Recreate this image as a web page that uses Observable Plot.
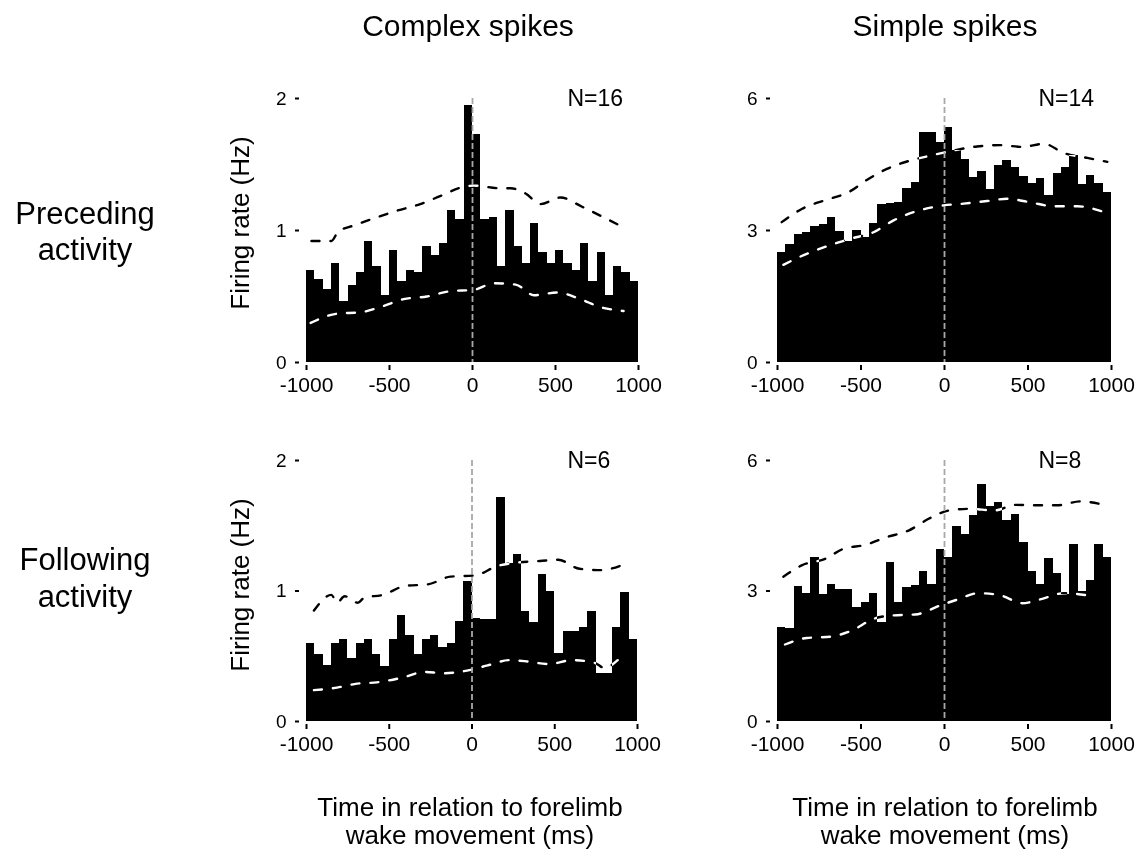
<!DOCTYPE html>
<html><head><meta charset="utf-8">
<script src="https://cdn.jsdelivr.net/npm/d3@7"></script>
<script src="https://cdn.jsdelivr.net/npm/@observablehq/plot@0.6"></script>
<style>
body{margin:0;background:#fff;}
#fig{position:relative;width:1137px;height:851px;font-family:"Liberation Sans",Arial,Helvetica,sans-serif;color:#000;overflow:hidden;background:#fff;}
.t{position:absolute;white-space:nowrap;text-align:center;}
.panel{position:absolute;}
</style></head><body><div id="fig"></div>
<script>
// 50-ms bins, -1000 .. 1000 ms
const binStarts = [-1000,-950,-900,-850,-800,-750,-700,-650,-600,-550,-500,-450,-400,-350,-300,-250,-200,-150,-100,-50,
  0,50,100,150,200,250,300,350,400,450,500,550,600,650,700,750,800,850,900,950];
const binWidth = 50;

// Complex spikes, preceding activity (N=16)
const csPreRate = [0.70,0.63,0.55,0.75,0.46,0.58,0.68,0.92,0.73,0.51,0.85,0.61,0.70,0.68,0.88,0.81,0.90,1.15,1.08,1.95,
  1.73,1.08,1.10,0.73,1.15,0.88,0.75,1.05,0.83,0.75,0.85,0.75,0.70,0.90,0.61,0.83,0.51,0.73,0.68,0.61];
const csPreUpT = [-970,-850,-810,-710,-575,-455,-315,-195,-55,10,165,230,320,410,530,660,790,930];
const csPreUpV = [0.92,0.92,0.99,1.04,1.10,1.15,1.20,1.26,1.33,1.34,1.32,1.32,1.28,1.20,1.25,1.18,1.10,1.01];
const csPreLoT = [-975,-815,-675,-555,-415,-275,-135,5,130,260,370,510,650,770,910];
const csPreLoV = [0.30,0.37,0.38,0.42,0.48,0.50,0.54,0.55,0.60,0.59,0.51,0.53,0.48,0.42,0.39];

// Simple spikes, preceding activity (N=14)
const ssPreRate = [2.49,2.68,2.90,2.95,3.09,3.14,3.29,2.98,2.76,3.00,2.83,3.17,3.58,3.62,3.64,3.95,4.08,5.22,5.22,5.01,
  5.34,4.82,4.61,4.21,4.33,3.93,4.48,4.59,4.44,4.23,4.06,4.19,3.80,4.29,4.43,4.71,4.04,4.24,4.06,3.86];
const ssPreUpT = [-975,-855,-705,-575,-465,-345,-205,-75,55,195,335,465,595,715,855,975];
const ssPreUpV = [3.19,3.49,3.70,3.87,4.15,4.40,4.59,4.71,4.82,4.91,4.94,4.90,4.97,4.76,4.65,4.56];
const ssPreLoT = [-965,-825,-705,-565,-425,-305,-165,-5,115,255,375,515,655,795,955];
const ssPreLoV = [2.22,2.47,2.64,2.81,2.96,3.23,3.44,3.57,3.61,3.67,3.72,3.64,3.55,3.55,3.42];

// Complex spikes, following activity (N=6)
const csFolRate = [0.60,0.51,0.43,0.60,0.63,0.48,0.60,0.63,0.51,0.42,0.63,0.81,0.66,0.51,0.63,0.66,0.57,0.60,0.77,1.07,
  0.79,0.78,0.78,1.72,1.21,1.28,0.84,0.76,1.13,1.00,0.52,0.69,0.69,0.72,0.84,0.37,0.37,0.72,0.99,0.63];
const csFolUpT = [-955,-850,-815,-770,-690,-650,-540,-400,-270,-130,20,150,290,410,520,650,780,910];
const csFolUpV = [0.85,0.97,0.91,0.96,0.91,0.95,0.97,1.04,1.05,1.11,1.12,1.19,1.22,1.23,1.24,1.17,1.16,1.20];
const csFolLoT = [-955,-815,-695,-575,-410,-290,-170,-30,95,225,335,465,605,740,800,880];
const csFolLoV = [0.24,0.26,0.29,0.30,0.34,0.38,0.37,0.39,0.43,0.47,0.46,0.44,0.47,0.45,0.41,0.47];

// Simple spikes, following activity (N=8)
const ssFolRate = [2.15,2.13,3.11,2.95,3.78,2.92,3.16,3.03,3.03,2.63,2.74,2.95,2.28,3.66,2.74,3.09,3.13,3.45,3.16,3.95,
  3.78,4.49,4.29,4.74,5.44,4.94,5.04,4.62,4.77,4.11,3.45,3.16,3.74,3.41,2.93,4.06,3.00,3.23,4.06,3.78];
const ssFolUpT = [-965,-855,-715,-605,-475,-345,-215,-95,25,155,295,425,545,675,815,955];
const ssFolUpV = [3.33,3.59,3.74,3.97,4.06,4.24,4.39,4.66,4.85,4.89,4.85,4.98,4.97,4.97,5.06,4.98];
const ssFolLoT = [-955,-825,-685,-555,-425,-305,-175,-25,75,205,335,465,585,715,855];
const ssFolLoV = [1.77,1.92,1.95,2.09,2.36,2.44,2.46,2.67,2.80,2.95,2.90,2.72,2.82,2.95,2.90];

const xTicks = [-1000,-500,0,500,1000];
const csYTicks = [0,1,2];
const ssYTicks = [0,3,6];
const columnTitles = ["Complex spikes","Simple spikes"];
const rowTitles = [["Preceding","activity"],["Following","activity"]];
const yLabel = "Firing rate (Hz)";
const xLabel = ["Time in relation to forelimb","wake movement (ms)"];
const nLabels = ["N=16","N=14","N=6","N=8"];

const FONT = '"Liberation Sans",Arial,Helvetica,sans-serif';
const fig = document.getElementById("fig");

function addText(lines, css){
  const d = document.createElement("div");
  d.className = "t";
  d.innerHTML = lines.join("<br>");
  Object.assign(d.style, css);
  fig.appendChild(d);
  return d;
}

const panels = [
  {rate: csPreRate, upT: csPreUpT, upV: csPreUpV, loT: csPreLoT, loV: csPreLoV, yTicks: csYTicks, n: nLabels[0], L:306, T:98, W:332, H:264},
  {rate: ssPreRate, upT: ssPreUpT, upV: ssPreUpV, loT: ssPreLoT, loV: ssPreLoV, yTicks: ssYTicks, n: nLabels[1], L:777, T:98, W:334, H:264},
  {rate: csFolRate, upT: csFolUpT, upV: csFolUpV, loT: csFolLoT, loV: csFolLoV, yTicks: csYTicks, n: nLabels[2], L:306, T:460, W:331, H:261},
  {rate: ssFolRate, upT: ssFolUpT, upV: ssFolUpV, loT: ssFolLoT, loV: ssFolLoV, yTicks: ssYTicks, n: nLabels[3], L:777, T:460, W:334, H:261}
];

const mL = 50, mR = 15, mT = 12, mB = 40;

for (const p of panels) {
  const bars = binStarts.map((s, i) => ({x1: s, x2: s + binWidth, y: p.rate[i]}));
  const up = p.upT.map((t, i) => ({t, v: p.upV[i]}));
  const lo = p.loT.map((t, i) => ({t, v: p.loV[i]}));
  const ymax = p.yTicks[p.yTicks.length - 1];
  const chart = Plot.plot({
    width: p.W + mL + mR,
    height: p.H + mT + mB,
    marginLeft: mL, marginRight: mR, marginTop: mT, marginBottom: mB,
    style: {fontFamily: FONT, background: "white", color: "black", overflow: "visible"},
    x: {domain: [-1000, 1000]},
    y: {domain: [0, ymax]},
    marks: [
      Plot.frame({fill: "white", stroke: null}),
      Plot.rectY(bars, {x1: "x1", x2: "x2", y: "y", fill: "black", shapeRendering: "crispEdges"}),
      Plot.line(up, {x: "t", y: "v", stroke: "white", strokeWidth: 2.4, strokeDasharray: "8,11", curve: "monotone-x", mixBlendMode: "difference"}),
      Plot.line(lo, {x: "t", y: "v", stroke: "white", strokeWidth: 2.4, strokeDasharray: "8,11", curve: "monotone-x", mixBlendMode: "difference"}),
      Plot.ruleX([0], {stroke: "#a8a8a8", strokeWidth: 1.8, strokeDasharray: "6,3"}),
      Plot.axisX({ticks: xTicks, tickSize: 5, tickPadding: 7, dy: 3, strokeWidth: 2, fontSize: 21, label: null, tickFormat: d => String(d)}),
      Plot.axisY({ticks: p.yTicks, tickSize: 4, tickPadding: 9, dx: -7, strokeWidth: 2, fontSize: 19, label: null, tickFormat: d => String(d)}),
      Plot.text([p.n], {frameAnchor: "top-left", text: d => d, textAnchor: "start", lineAnchor: "middle", dx: 261, fontSize: 23, fill: "black"})
    ]
  });
  chart.classList.add("panel");
  chart.style.left = (p.L - mL) + "px";
  chart.style.top = (p.T - mT) + "px";
  fig.appendChild(chart);
}

// column titles
addText([columnTitles[0]], {left: (468-200)+"px", width: "400px", top: "11px", fontSize: "30px", lineHeight: "30px"});
addText([columnTitles[1]], {left: (945-200)+"px", width: "400px", top: "11px", fontSize: "30px", lineHeight: "30px"});
// row titles
addText(rowTitles[0], {left: "0px", width: "170px", top: "196px", fontSize: "31px", lineHeight: "36px"});
addText(rowTitles[1], {left: "0px", width: "170px", top: "541px", fontSize: "31px", lineHeight: "37px"});
// y labels (rotated)
addText([yLabel], {left: (240-150)+"px", width: "300px", top: (223-15)+"px", height: "30px", fontSize: "26px", lineHeight: "30px", transform: "rotate(-90deg)"});
addText([yLabel], {left: (240-150)+"px", width: "300px", top: (585-15)+"px", height: "30px", fontSize: "26px", lineHeight: "30px", transform: "rotate(-90deg)"});
// x labels
addText(xLabel, {left: (470-250)+"px", width: "500px", top: "793px", fontSize: "26px", lineHeight: "28px"});
addText(xLabel, {left: (945-250)+"px", width: "500px", top: "793px", fontSize: "26px", lineHeight: "28px"});
</script></body></html>
